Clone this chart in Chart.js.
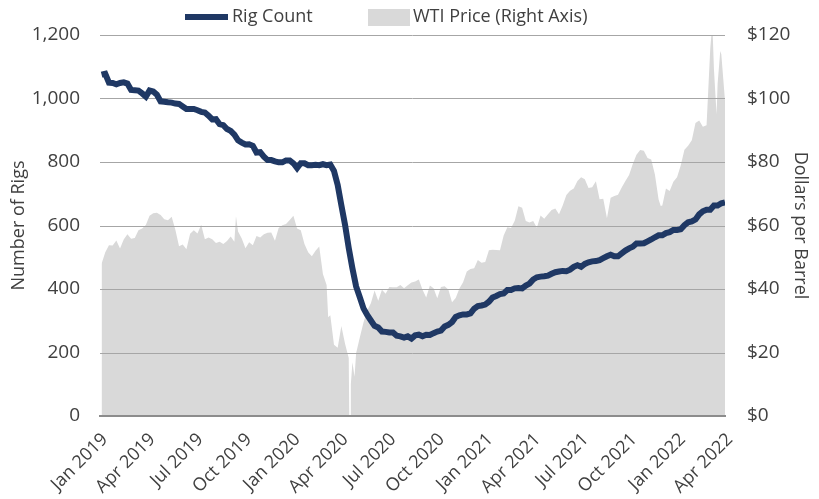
<!DOCTYPE html>
<html lang="en">
<head>
  <meta charset="UTF-8">
  <title>Rig Count vs WTI Price</title>
  <script src="https://cdn.jsdelivr.net/npm/chart.js"></script>
  <style>
    body {
      margin: 0;
      background: #ffffff;
    }
    #chart {
      display: block;
    }
  </style>
</head>
<body>
  <canvas id="chart" width="819" height="499"></canvas>

<script>
  // weekly Friday readings, first week of the series
  const weekStart = '2019-01-04';

  // US rig count (weekly)
  const rigCount = [
    // 2019
    1075, 1078, 1050, 1049, 1045, 1049, 1051, 1047, 1027, 1026, 1025, 1016, 1006,
    1025, 1022, 1012, 991, 990, 988, 987, 984, 983, 975, 967, 967, 967,
    963, 958, 956, 946, 934, 935, 919, 916, 904, 898, 886, 868, 861,
    855, 856, 851, 830, 831, 817, 806, 806, 802, 799, 799, 805, 805,
    // 2020
    796, 781, 796, 796, 790, 790, 791, 790, 793, 790, 792, 772, 728,
    664, 602, 529, 465, 408, 374, 339, 318, 301, 284, 279, 266, 265,
    263, 263, 253, 251, 247, 251, 244, 254, 256, 251, 256, 255, 261,
    266, 269, 282, 287, 296, 312, 317, 320, 320, 323, 338, 346, 348,
    // 2021
    351, 360, 373, 378, 384, 386, 397, 397, 402, 403, 402, 411, 417,
    430, 437, 439, 440, 442, 448, 453, 455, 457, 456, 461, 470, 475,
    470, 479, 484, 487, 488, 491, 497, 503, 508, 503, 503, 512, 521,
    528, 533, 543, 543, 544, 550, 556, 563, 569, 569, 576, 579, 586, 586,
    // 2022
    588, 601, 610, 613, 619, 635, 645, 650, 650, 663, 663, 670, 673
  ];

  // WTI price, $/bbl (same weekly dates)
  const wtiPrice = [
    // 2019
    47.96, 51.59, 53.80, 53.69, 55.26, 52.72, 55.59, 57.26, 55.80, 56.07, 58.52, 59.04, 60.14,
    63.08, 63.89, 64.00, 63.30, 61.94, 61.66, 62.76, 58.63, 53.50, 53.99, 52.51, 57.43, 58.47,
    57.51, 60.21, 55.63, 56.20, 55.66, 54.50, 54.87, 54.17, 55.10, 56.52, 54.85, 58.09, 55.91,
    52.81, 54.70, 53.78, 56.66, 56.20, 57.24, 57.72, 57.77, 55.17, 59.20, 60.07, 60.44, 61.72,
    // 2020
    63.05, 59.04, 58.54, 54.19, 51.56, 50.32, 52.05, 53.38, 44.76, 41.28, 31.73, 22.43, 21.51,
    28.34, 22.76, 18.27, 16.94, 19.78, 24.74, 29.43, 33.25, 35.49, 39.55, 36.26, 39.75, 38.49,
    40.65, 40.55, 40.59, 41.29, 40.27, 41.22, 42.01, 42.34, 42.97, 39.77, 37.33, 41.11, 40.25,
    37.05, 40.60, 40.88, 39.85, 35.79, 37.14, 40.13, 42.15, 45.53, 46.26, 46.57, 49.10, 48.23,
    // 2021
    48.52, 52.24, 52.36, 52.27, 52.20, 56.85, 59.47, 59.24, 61.50, 66.09, 65.61, 61.42, 60.97,
    61.45, 59.32, 63.13, 62.14, 63.58, 64.90, 65.37, 63.58, 66.32, 69.62, 70.91, 71.64, 74.05,
    75.16, 74.56, 71.81, 72.07, 73.95, 68.28, 68.44, 62.32, 68.74, 69.29, 69.72, 71.97, 73.98,
    75.88, 79.35, 82.28, 83.76, 83.57, 81.27, 80.79, 76.10, 68.15, 66.26, 71.67, 70.86, 73.79, 75.21,
    // 2022
    78.90, 83.82, 85.14, 86.82, 92.31, 93.10, 91.07, 91.59, 115.68, 109.33, 104.70, 113.90, 99.27
  ];

  // daily extremes that fall between the weekly readings
  const wtiExtraDates = ['2019-09-16', '2020-03-09', '2020-04-20', '2020-04-21', '2020-04-28',
                         '2021-11-30', '2022-03-08', '2022-03-16', '2022-03-23'];
  const wtiExtraPrices = [62.90, 31.13, -37.63, 10.01, 12.34, 66.18, 123.70, 95.04, 114.93];

  const tickLabels = ['Jan 2019', 'Apr 2019', 'Jul 2019', 'Oct 2019', 'Jan 2020', 'Apr 2020', 'Jul 2020',
                      'Oct 2020', 'Jan 2021', 'Apr 2021', 'Jul 2021', 'Oct 2021', 'Jan 2022', 'Apr 2022'];

  const monthNames = ['Jan', 'Feb', 'Mar', 'Apr', 'May', 'Jun', 'Jul', 'Aug', 'Sep', 'Oct', 'Nov', 'Dec'];

  function dayNum(s) {
    const [y, m, d] = s.split('-').map(Number);
    return Date.UTC(y, m - 1, d) / 864e5;
  }
  function labelDay(label) {
    const [mon, yr] = label.split(' ');
    return Date.UTC(Number(yr), monthNames.indexOf(mon), 1) / 864e5;
  }

  const startDay = dayNum(weekStart);
  const tickDays = tickLabels.map(labelDay);

  const rigPoints = rigCount.map((v, i) => ({ x: startDay + 7 * i, y: v }));
  const wtiPoints = wtiPrice.map((v, i) => ({ x: startDay + 7 * i, y: v }))
    .concat(wtiExtraDates.map((d, i) => ({ x: dayNum(d), y: wtiExtraPrices[i] })))
    .sort((a, b) => a.x - b.x);

  const navy = '#1f3864';
  const lightGray = '#d9d9d9';
  const textColor = '#404040';
  const fontFamily = '"Open Sans", sans-serif';

  Chart.defaults.font.family = fontFamily;
  Chart.defaults.color = textColor;

  // gridlines sit above the gray area but under the rig line
  const gridUnderLine = {
    id: 'gridUnderLine',
    beforeDatasetDraw(chart, args) {
      if (args.index !== 0) return;
      const { ctx, chartArea } = chart;
      const ys = chart.scales.y;
      ctx.save();
      ctx.strokeStyle = '#a6a6a6';
      ctx.lineWidth = 1;
      ys.ticks.forEach(t => {
        if (t.value === 0) return;
        const py = Math.round(ys.getPixelForValue(t.value)) + 0.5;
        ctx.beginPath();
        ctx.moveTo(chartArea.left, py);
        ctx.lineTo(chartArea.right, py);
        ctx.stroke();
      });
      ctx.restore();
    }
  };

  // legend drawn like the original: line swatch, then box swatch
  const topLegend = {
    id: 'topLegend',
    afterDraw(chart) {
      const ctx = chart.ctx;
      const ds = chart.data.datasets;
      const y = 17;
      ctx.save();
      ctx.font = '18px ' + fontFamily;
      ctx.textBaseline = 'middle';
      ctx.fillStyle = textColor;

      ctx.strokeStyle = ds[0].borderColor;
      ctx.lineWidth = 6;
      ctx.beginPath();
      ctx.moveTo(185, y);
      ctx.lineTo(228, y);
      ctx.stroke();
      ctx.fillText(ds[0].label, 232, y);

      ctx.fillStyle = ds[1].backgroundColor;
      ctx.fillRect(368, 9, 42, 17);
      ctx.fillStyle = textColor;
      ctx.fillText(ds[1].label, 413, y);
      ctx.restore();
    }
  };

  new Chart(document.getElementById('chart'), {
    type: 'line',
    data: {
      datasets: [
        {
          label: 'Rig Count',
          data: rigPoints,
          yAxisID: 'y',
          borderColor: navy,
          backgroundColor: navy,
          borderWidth: 6,
          pointRadius: 0,
          fill: false,
          tension: 0
        },
        {
          label: 'WTI Price (Right Axis)',
          data: wtiPoints,
          yAxisID: 'y1',
          borderWidth: 0,
          borderColor: lightGray,
          backgroundColor: lightGray,
          pointRadius: 0,
          fill: 'origin',
          tension: 0
        }
      ]
    },
    options: {
      responsive: false,
      animation: false,
      layout: { padding: { top: 35, left: 0, right: 0, bottom: 0 } },
      plugins: {
        legend: { display: false },
        tooltip: { enabled: false }
      },
      scales: {
        x: {
          type: 'linear',
          min: tickDays[0],
          max: tickDays[tickDays.length - 1],
          afterBuildTicks: s => { s.ticks = tickDays.map(v => ({ value: v })); },
          afterFit: s => { s.height = 83; },
          grid: { display: false, drawTicks: false },
          border: { display: true, color: '#8c8c8c', width: 2, z: 1 },
          ticks: {
            autoSkip: false,
            minRotation: 45,
            maxRotation: 45,
            padding: 13,
            labelOffset: 5,
            font: { size: 18 },
            callback: (v, i) => tickLabels[i]
          }
        },
        y: {
          position: 'left',
          min: 0,
          max: 1200,
          afterFit: s => { s.width = 100; },
          grid: { display: false, drawTicks: false },
          border: { display: false },
          ticks: {
            stepSize: 200,
            padding: 20,
            font: { size: 19 },
            callback: v => v.toLocaleString('en-US')
          },
          title: { display: true, text: 'Number of Rigs', font: { size: 18 }, padding: { top: 8, bottom: 0 } }
        },
        y1: {
          position: 'right',
          min: 0,
          max: 120,
          afterFit: s => { s.width = 94; },
          grid: { display: false, drawTicks: false },
          border: { display: false },
          ticks: {
            stepSize: 20,
            padding: 22,
            font: { size: 19 },
            callback: v => '$' + v
          },
          title: { display: true, text: 'Dollars per Barrel', font: { size: 18 }, padding: { top: 8, bottom: 0 } }
        }
      }
    },
    plugins: [gridUnderLine, topLegend]
  });
</script>

</body>
</html>
